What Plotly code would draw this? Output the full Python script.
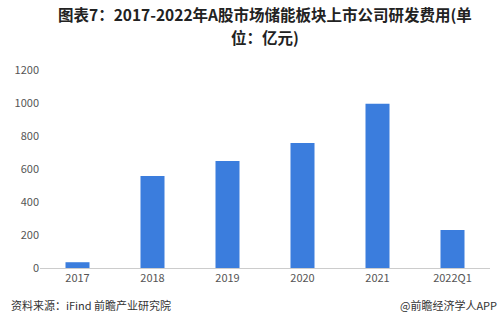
import plotly.graph_objects as go

categories = ["2017", "2018", "2019", "2020", "2021", "2022Q1"]
tick_labels = ["2017", "2018", "2019", "2020", "2021", "2022Q1"]
values = [35, 558, 648, 758, 995, 230]
y_ticks = [0, 200, 400, 600, 800, 1000, 1200]

fig = go.Figure()
fig.add_trace(go.Bar(
    x=categories, y=values,
    marker=dict(color="#3b7ddd", line=dict(width=0)),
    width=0.32,
))

font_family = "Noto Sans CJK SC, Noto Sans, sans-serif"
fig.update_layout(
    width=500, height=330,
    margin=dict(l=40, r=10, t=65, b=62),
    paper_bgcolor="white", plot_bgcolor="white",
    showlegend=False,
    font=dict(family=font_family, size=11, color="#555555"),
    xaxis=dict(
        tickmode="array", tickvals=categories, ticktext=tick_labels,
        showline=True, linecolor="#cccccc", linewidth=1,
        ticks="", showgrid=False,
        tickfont=dict(size=11, color="#555555"),
    ),
    yaxis=dict(
        range=[0, 1230], tickvals=y_ticks,
        showgrid=False, zeroline=False, showline=False,
        ticks="", tickfont=dict(size=11, color="#555555"),
    ),
    bargap=0.68,
)

title_lines = ["<b>图表7：2017-2022年A股市场储能板块上市公司研发费用(单</b>", "<b>位：亿元)</b>"]
for txt, yy in zip(title_lines, [1.251, 1.136]):
    fig.add_annotation(
        text=txt, xref="paper", yref="paper", x=0.5, y=yy,
        xanchor="center", yanchor="middle", showarrow=False,
        font=dict(size=15.5, color="#222222", family=font_family),
    )
fig.add_annotation(
    text="资料来源：iFind 前瞻产业研究院", xref="paper", yref="paper",
    x=-0.07, y=-0.18, xanchor="left", yanchor="middle", showarrow=False,
    font=dict(size=11, color="#333333", family=font_family),
)
fig.add_annotation(
    text="@前瞻经济学人APP", xref="paper", yref="paper",
    x=1.02, y=-0.18, xanchor="right", yanchor="middle", showarrow=False,
    font=dict(size=11, color="#333333", family=font_family),
)

fig.write_html("out.html")
